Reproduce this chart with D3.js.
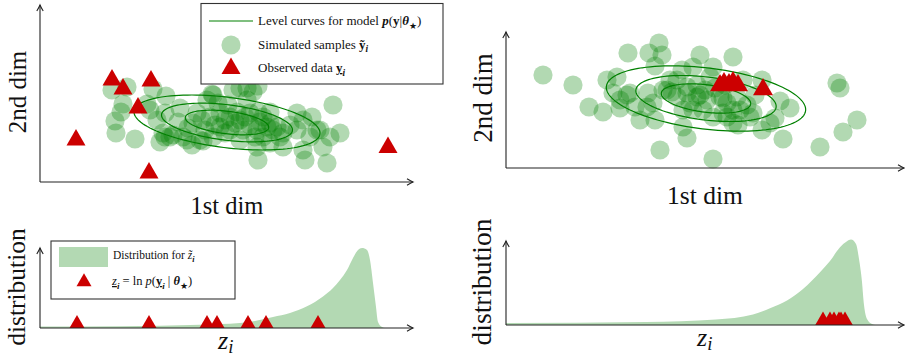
<!DOCTYPE html>
<html>
<head>
<meta charset="utf-8">
<script src="https://cdn.jsdelivr.net/npm/d3@7"></script>
<style>
  body { margin: 0; background: #fff; }
  svg { display: block; }
  text { font-family: "Liberation Serif", "DejaVu Serif", serif; fill: #111; }
</style>
</head>
<body>
<svg id="fig" width="905" height="363"></svg>
<script>
// ---------- data (units: arbitrary, axes have no ticks) ----------

// left scatter: simulated samples (1st dim, 2nd dim)
const simLeft = [
  [7.2,9.2],[8.7,9.5],[8.3,7.8],[8.1,7.0],[7.5,6.1],[7.6,4.9],[9.5,4.3],[11.3,9.3],[12.6,8.6],[10.7,7.8],
  [11.7,6.2],[12.0,4.0],[12.5,4.5],[13.3,4.7],[12.5,6.9],[11.0,7.2],[14.7,4.2],[15.2,3.7],[16.0,4.2],[15.7,6.9],
  [16.7,8.2],[17.2,8.8],[19.3,9.2],[20.7,9.4],[21.8,9.6],[20.0,9.4],[21.3,9.0],[20.7,8.2],[15.3,5.9],[16.2,6.2],
  [17.0,6.5],[18.0,6.9],[19.0,6.5],[20.0,6.2],[21.0,6.9],[21.8,7.0],[22.3,6.5],[23.0,5.9],[23.7,5.5],[24.3,4.9],
  [18.0,5.5],[19.0,5.2],[20.3,5.2],[21.7,5.2],[22.3,4.5],[23.0,3.9],[21.7,3.5],[21.8,2.2],[17.3,4.5],[16.3,4.1],
  [14.3,4.5],[13.0,4.5],[12.3,4.9],[25.7,6.9],[26.3,6.2],[27.2,6.5],[27.7,5.2],[27.0,4.5],[26.3,3.2],[26.5,2.2],
  [28.7,1.9],[28.3,3.5],[29.3,7.7],[30.0,4.9],[29.0,4.5],[28.0,5.2],[25.7,5.2],[22.7,5.5],[23.3,5.2],[24.0,4.5],
  [24.3,3.5],[17.3,8.7],[18.5,6.2],[19.5,5.9],[20.5,6.5],[17.5,5.7],[16.5,5.2],[18.5,4.9],[21.0,5.7],[22.0,6.0],
  [19.7,7.0],[18.8,7.7],[17.8,7.9],[14.8,5.4],[13.8,6.0],[21.5,4.5],[20.0,4.2],[23.0,7.0],[25.0,5.7],[14.0,7.4]
];
// left scatter: observed data
const obsLeft = [[7.2,10.2],[8.3,9.3],[11.1,10.1],[9.8,7.4],[3.6,4.2],[10.9,0.9],[34.8,3.45]];

// right scatter: simulated samples
const simRight = [
  [3.7,9.3],[6.7,8.3],[8.3,6.1],[9.7,5.6],[10.1,8.8],[11.1,9.1],[11.4,6.8],[12.2,11.5],[14.3,11.5],[15.3,12.5],
  [15.6,11.3],[14.9,10.2],[19.4,11.3],[22.7,11.1],[15.4,1.8],[20.7,0.9],[18.1,3.0],[27.7,2.9],[31.4,2.1],[33.7,3.6],
  [35.1,4.8],[33.1,8.5],[33.4,8.0],[28.4,6.0],[27.4,6.7],[25.6,8.8],[25.6,3.8],[11.4,6.0],[12.1,7.3],[12.9,6.1],
  [13.4,4.8],[14.2,7.5],[14.7,6.5],[14.9,4.8],[17.7,4.1],[16.6,7.6],[16.1,7.8],[17.6,9.8],[17.1,8.8],[20.7,10.1],
  [20.4,9.1],[26.4,4.5],[23.2,4.3],[22.7,5.8],[24.1,6.3],[24.9,7.3],[21.7,7.0],[19.4,7.3],[18.7,5.8],[18.1,8.1],
  [22.1,5.1],[23.7,8.8],[24.4,5.1],[18.7,10.1],[16.4,8.8],[15.7,7.8],[17.1,7.1],[18.1,7.5],[19.1,7.1],[18.4,6.5],
  [20.1,6.8],[21.4,7.1],[22.1,6.5],[23.1,7.1],[23.4,5.8],[24.7,5.5],[26.9,5.0],[17.7,5.8],[19.7,5.8],[20.7,5.1],
  [21.7,5.5],[22.7,4.5],[14.1,6.1],[10.7,7.5],[12.4,7.5],[19.1,8.3],[20.9,8.0],[19.9,7.8],[21.9,8.3]
];
// right scatter: observed data
const obsRight = [[21.4,8.25],[21.8,8.45],[22.3,8.35],[22.7,8.55],[23.2,8.25],[25.7,7.85]];

// Gaussian model shown as level curves: centre, semi-axes, tilt (deg)
const modelLeft  = { cx: 18.7, cy: 5.95, a: 4.2, b: 1.13, angle: -7 };
const modelRight = { cx: 20.0, cy: 6.95, a: 4.5, b: 1.37, angle: -7 };
const levelRadii = [1, 1.57, 2.23];

// log-likelihood densities (z, density)
const densLeftZ = [0, 8, 16, 20, 21.5, 23.3, 25, 26.7, 28.3, 29.3, 30, 30.7, 31.3, 31.8, 32.2, 32.7, 33, 33.3, 33.6, 33.8, 34.2, 34.5];
const densLeftD = [0.15, 0.18, 0.33, 0.5, 0.7, 1.1, 1.5, 2.17, 3.16, 4.0, 4.8, 5.8, 7.0, 7.8, 8.0, 7.8, 6.8, 4.5, 2.1, 0.6, 0.1, 0];
const densRightZ = [0, 14, 21, 24.7, 26.4, 28.1, 29.7, 31.4, 32.4, 33.4, 34.1, 34.5, 35, 35.3, 35.6, 35.8, 36.1, 36.6, 37];
const densRightD = [0.2, 0.3, 0.55, 1.05, 1.67, 2.44, 3.6, 5.27, 6.4, 7.77, 8.37, 8.54, 8.1, 6.6, 4.3, 2.0, 0.6, 0.1, 0];

// observed log-likelihoods
const zLeft  = [3.7, 10.9, 16.7, 17.7, 20.8, 22.6, 27.8];
const zRight = [31.7, 32.4, 32.8, 33.3, 33.5, 33.9];

// ---------- styling ----------
const GREEN = "#008000";
const FILL  = "rgb(179,217,179)";
const RED   = "#cc0000";
const AXIS  = "#222";

const svg = d3.select("#fig");

function triPath(side) {
  return d3.symbol(d3.symbolTriangle, side * side * Math.sqrt(3) / 4)();
}

function drawAxes(x, y) {
  const [x0, x1] = x.range();
  const [y0, y1] = y.range();
  const g = svg.append("g").attr("fill", "none").attr("stroke", AXIS).attr("stroke-width", 1.1);
  g.append("line").attr("x1", x0).attr("y1", y0).attr("x2", x1).attr("y2", y0);
  g.append("line").attr("x1", x0).attr("y1", y0).attr("x2", x0).attr("y2", y1);
  // arrow heads
  g.append("path").attr("d", `M${x1 - 6},${y0 - 3.2} Q${x1 - 2},${y0 - 0.8} ${x1},${y0} Q${x1 - 2},${y0 + 0.8} ${x1 - 6},${y0 + 3.2}`);
  g.append("path").attr("d", `M${x0 - 3.2},${y1 + 6} Q${x0 - 0.8},${y1 + 2} ${x0},${y1} Q${x0 + 0.8},${y1 + 2} ${x0 + 3.2},${y1 + 6}`);
}

function ellipsePoints(m, r) {
  const th = m.angle * Math.PI / 180;
  return d3.range(0, 361, 3).map(deg => {
    const t = deg * Math.PI / 180;
    const u = m.a * r * Math.cos(t), v = m.b * r * Math.sin(t);
    return [m.cx + u * Math.cos(th) - v * Math.sin(th), m.cy + u * Math.sin(th) + v * Math.cos(th)];
  });
}

function scatterPanel(x, y, samples, observed, model, triSide) {
  const g = svg.append("g");
  g.selectAll("circle").data(samples).join("circle")
    .attr("cx", d => x(d[0])).attr("cy", d => y(d[1])).attr("r", 9.6)
    .attr("fill", GREEN).attr("fill-opacity", 0.3);
  const line = d3.line().x(d => x(d[0])).y(d => y(d[1])).curve(d3.curveLinearClosed);
  g.selectAll("path.level").data(levelRadii).join("path").attr("class", "level")
    .attr("d", r => line(ellipsePoints(model, r)))
    .attr("fill", "none").attr("stroke", GREEN).attr("stroke-width", 1.2);
  g.selectAll("path.obs").data(observed).join("path").attr("class", "obs")
    .attr("d", triPath(triSide))
    .attr("transform", d => `translate(${x(d[0])},${y(d[1])})`)
    .attr("fill", RED);
  drawAxes(x, y);
}

function densityPanel(x, y, zs, ds, obs, triSide) {
  const pts = zs.map((z, i) => [z, ds[i]]);
  const area = d3.area().x(d => x(d[0])).y0(y(0)).y1(d => y(d[1])).curve(d3.curveMonotoneX);
  svg.append("path").attr("d", area(pts)).attr("fill", FILL);
  const off = triSide / (2 * Math.sqrt(3));
  svg.append("g").selectAll("path").data(obs).join("path")
    .attr("d", triPath(triSide))
    .attr("transform", z => `translate(${x(z)},${y(0) - off})`)
    .attr("fill", RED);
  drawAxes(x, y);
}

// rich text: parts with italic / bold / underline / subscript flags
function rich(sel, parts, size, subShift = 0.28) {
  let shift = 0;
  parts.forEach(p => {
    const ts = sel.append("tspan").text(p.t);
    if (p.it) ts.attr("font-style", "italic");
    if (p.b) ts.attr("font-weight", "bold");
    if (p.u) ts.attr("text-decoration", "underline");
    const want = p.sub ? size * subShift : 0;
    if (want !== shift) { ts.attr("dy", want - shift); shift = want; }
    if (p.sub) ts.attr("font-size", size * 0.72);
  });
}

function label(x, y, txt, size, rotate) {
  return svg.append("text")
    .attr("transform", `translate(${x},${y})` + (rotate ? " rotate(-90)" : ""))
    .attr("text-anchor", "middle").attr("font-size", size).text(txt);
}

// ---------- scales ----------
const xTL = d3.scaleLinear([0, 37.3], [40, 413]);
const yTL = d3.scaleLinear([0, 17.7], [182, 5]);
const xTR = d3.scaleLinear([0, 39.8], [506, 904]);
const yTR = d3.scaleLinear([0, 13.6], [168, 32]);
const xBL = d3.scaleLinear([0, 37.3], [40, 413]);
const yBL = d3.scaleLinear([0, 8.0], [328, 248]);
const xBR = d3.scaleLinear([0, 39.8], [506, 904]);
const yBR = d3.scaleLinear([0, 8.4], [325, 241]);

// ---------- panels ----------
scatterPanel(xTL, yTL, simLeft, obsLeft, modelLeft, 19);
scatterPanel(xTR, yTR, simRight, obsRight, modelRight, 20);
densityPanel(xBL, yBL, densLeftZ, densLeftD, zLeft, 15);
densityPanel(xBR, yBR, densRightZ, densRightD, zRight, 15.5);

// ---------- axis titles ----------
label(26, 92, "2nd dim", 25, true);
label(227, 214, "1st dim", 24.5, false);
label(492, 98, "2nd dim", 27, true);
label(705, 204, "1st dim", 25.5, false);
label(25, 287, "distribution", 25.5, true);
label(491, 282, "distribution", 27.5, true);

const zl = svg.append("text").attr("x", 218).attr("y", 349).attr("font-size", 26);
rich(zl, [{ t: "z", it: true }, { t: "i", it: true, sub: true }], 26, 0.17);
const zr = svg.append("text").attr("x", 697).attr("y", 346).attr("font-size", 26);
rich(zr, [{ t: "z", it: true }, { t: "i", it: true, sub: true }], 26, 0.17);

// ---------- legend (scatter) ----------
{
  const g = svg.append("g");
  g.append("rect").attr("x", 201).attr("y", 3.5).attr("width", 242).attr("height", 80.5)
    .attr("fill", "#fff").attr("stroke", "#333").attr("stroke-width", 1.1);
  g.append("line").attr("x1", 209).attr("x2", 253).attr("y1", 21).attr("y2", 21)
    .attr("stroke", GREEN).attr("stroke-width", 1.2);
  g.append("circle").attr("cx", 231).attr("cy", 45).attr("r", 9.6)
    .attr("fill", GREEN).attr("fill-opacity", 0.3);
  g.append("path").attr("d", triPath(19)).attr("transform", "translate(231,68.5)").attr("fill", RED);
  const fs = 13;
  rich(g.append("text").attr("x", 258).attr("y", 25).attr("font-size", fs), [
    { t: "Level curves for model " }, { t: "p", it: true, b: true }, { t: "(" }, { t: "y", b: true },
    { t: "|" }, { t: "θ", it: true, b: true }, { t: "★", sub: true }, { t: ")" }
  ], fs);
  rich(g.append("text").attr("x", 258).attr("y", 48.5).attr("font-size", fs), [
    { t: "Simulated samples " }, { t: "ỹ", b: true }, { t: "i", it: true, b: true, sub: true }
  ], fs);
  rich(g.append("text").attr("x", 258).attr("y", 72).attr("font-size", fs), [
    { t: "Observed data " }, { t: "y", b: true, u: true }, { t: "i", it: true, b: true, sub: true }
  ], fs);
}

// ---------- legend (density) ----------
{
  const g = svg.append("g");
  g.append("rect").attr("x", 51).attr("y", 241).attr("width", 184).attr("height", 58)
    .attr("fill", "#fff").attr("stroke", "#333").attr("stroke-width", 1.1);
  g.append("rect").attr("x", 59).attr("y", 247).attr("width", 49).attr("height", 20).attr("fill", FILL);
  g.append("path").attr("d", triPath(15)).attr("transform", "translate(84,282)").attr("fill", RED);
  const fs = 11.5;
  rich(g.append("text").attr("x", 113).attr("y", 259).attr("font-size", fs), [
    { t: "Distribution for " }, { t: "z\u0303", it: true }, { t: "i", it: true, b: true, sub: true }
  ], fs);
  rich(g.append("text").attr("x", 112).attr("y", 285).attr("font-size", fs + 1), [
    { t: "z", it: true, u: true }, { t: "i", it: true, b: true, sub: true }, { t: " = ln " },
    { t: "p", it: true }, { t: "(" }, { t: "y", b: true, u: true }, { t: "i", it: true, b: true, sub: true },
    { t: " | " }, { t: "θ", it: true, b: true }, { t: "★", sub: true }, { t: ")" }
  ], fs + 1);
}
</script>
</body>
</html>
